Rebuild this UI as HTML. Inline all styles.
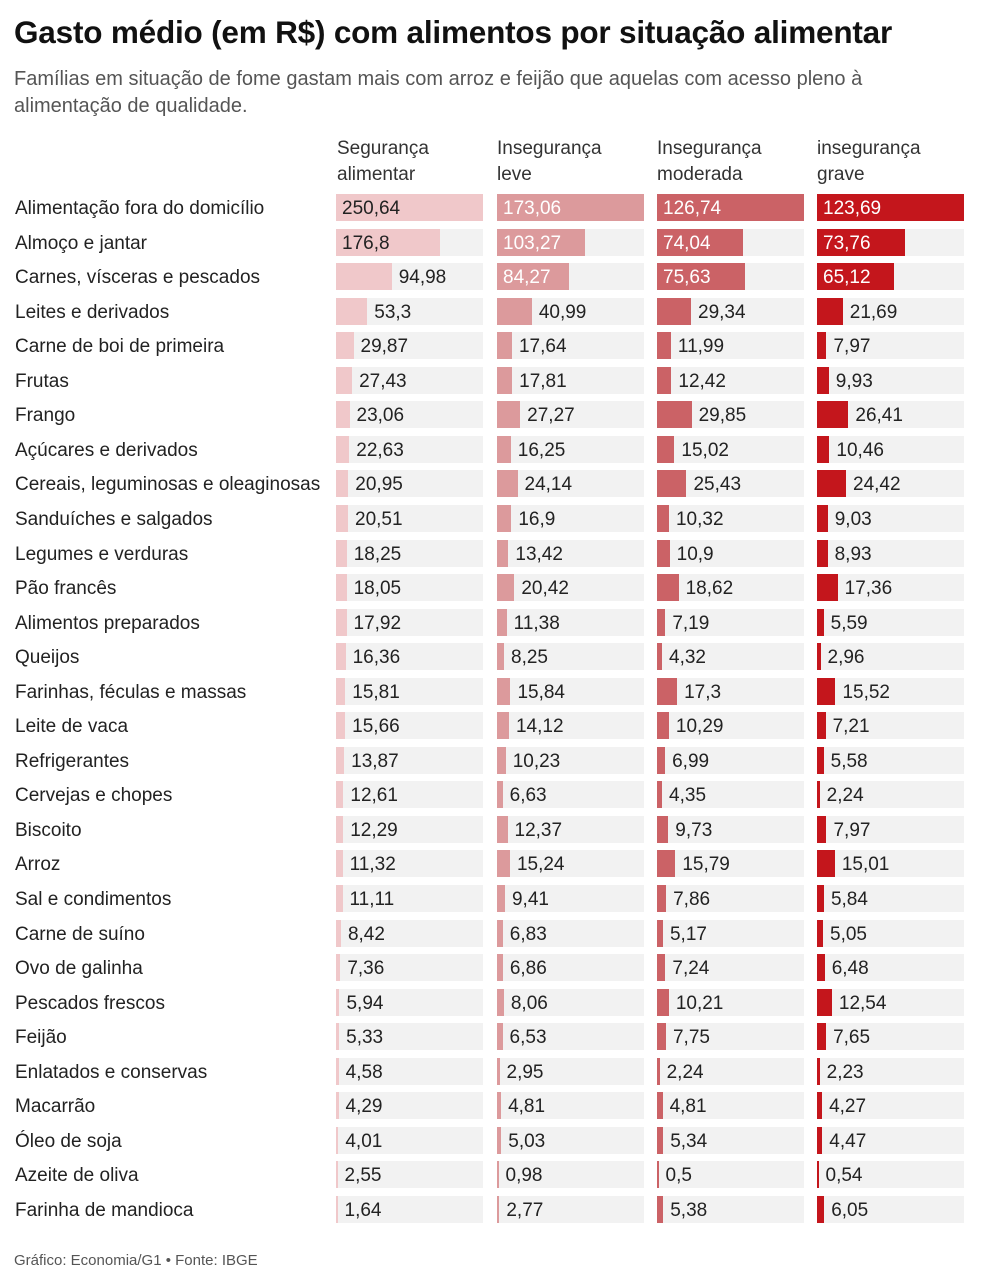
<!DOCTYPE html>
<html><head><meta charset="utf-8">
<style>
body{margin:0;background:#fff;width:984px;height:1287px;position:relative;font-family:"Liberation Sans","DejaVu Sans",sans-serif;color:#222;overflow:hidden}
.t{position:absolute;left:14px;top:14px;font-size:31.5px;font-weight:bold;color:#111;letter-spacing:-0.2px;white-space:nowrap}
.s{position:absolute;left:14px;top:66px;font-size:20px;line-height:27px;color:#555;width:960px}
.h{position:absolute;top:136px;font-size:19px;line-height:26px;color:#333}
.l{position:absolute;left:15px;font-size:19px;color:#222;white-space:nowrap}
.tr{position:absolute;background:#f2f2f2;height:27px}
.b{position:absolute;height:27px}
.v{position:absolute;font-size:19px;line-height:27px;white-space:nowrap}
.f{position:absolute;left:14px;top:1252px;font-size:15px;color:#555}
</style></head><body>
<div class="t">Gasto médio (em R$) com alimentos por situação alimentar</div>
<div class="s">Famílias em situação de fome gastam mais com arroz e feijão que aquelas com acesso pleno à alimentação de qualidade.</div>
<div class="h" style="left:337px">Segurança<br>alimentar</div>
<div class="h" style="left:497px">Insegurança<br>leve</div>
<div class="h" style="left:657px">Insegurança<br>moderada</div>
<div class="h" style="left:817px">insegurança<br>grave</div>
<div id="c"></div>
<div class="f">Gráfico: Economia/G1 • Fonte: IBGE</div>
<script>
var d=[["Alimentação fora do domicílio",250.64,173.06,126.74,123.69],["Almoço e jantar",176.8,103.27,74.04,73.76],["Carnes, vísceras e pescados",94.98,84.27,75.63,65.12],["Leites e derivados",53.3,40.99,29.34,21.69],["Carne de boi de primeira",29.87,17.64,11.99,7.97],["Frutas",27.43,17.81,12.42,9.93],["Frango",23.06,27.27,29.85,26.41],["Açúcares e derivados",22.63,16.25,15.02,10.46],["Cereais, leguminosas e oleaginosas",20.95,24.14,25.43,24.42],["Sanduíches e salgados",20.51,16.9,10.32,9.03],["Legumes e verduras",18.25,13.42,10.9,8.93],["Pão francês",18.05,20.42,18.62,17.36],["Alimentos preparados",17.92,11.38,7.19,5.59],["Queijos",16.36,8.25,4.32,2.96],["Farinhas, féculas e massas",15.81,15.84,17.3,15.52],["Leite de vaca",15.66,14.12,10.29,7.21],["Refrigerantes",13.87,10.23,6.99,5.58],["Cervejas e chopes",12.61,6.63,4.35,2.24],["Biscoito",12.29,12.37,9.73,7.97],["Arroz",11.32,15.24,15.79,15.01],["Sal e condimentos",11.11,9.41,7.86,5.84],["Carne de suíno",8.42,6.83,5.17,5.05],["Ovo de galinha",7.36,6.86,7.24,6.48],["Pescados frescos",5.94,8.06,10.21,12.54],["Feijão",5.33,6.53,7.75,7.65],["Enlatados e conservas",4.58,2.95,2.24,2.23],["Macarrão",4.29,4.81,4.81,4.27],["Óleo de soja",4.01,5.03,5.34,4.47],["Azeite de oliva",2.55,0.98,0.5,0.54],["Farinha de mandioca",1.64,2.77,5.38,6.05]];
var xs=[336,497,657,817],W=147,mx=[250.64,173.06,126.74,123.69],cols=["#f0c8ca","#dc9a9c","#cb6266","#c4161c"],tc=["#222","#fff","#fff","#fff"];
var h="";
d.forEach(function(r,i){var y=194+i*34.55;
h+='<div class="l" style="top:'+(y+4)+'px">'+r[0]+'</div>';
for(var j=0;j<4;j++){var w=Math.max(1.5,r[j+1]/mx[j]*W);
h+='<div class="tr" style="left:'+xs[j]+'px;top:'+y+'px;width:'+W+'px"></div>';
h+='<div class="b" style="left:'+xs[j]+'px;top:'+y+'px;width:'+w+'px;background:'+cols[j]+'"></div>';
var s=String(r[j+1]).replace(".",",");
if(w>66)h+='<div class="v" style="left:'+(xs[j]+6)+'px;top:'+(y+1)+'px;color:'+tc[j]+'">'+s+'</div>';
else h+='<div class="v" style="left:'+(xs[j]+w+7)+'px;top:'+(y+1)+'px;color:#222">'+s+'</div>';}
});
document.getElementById("c").innerHTML=h;
</script>
</body></html>
